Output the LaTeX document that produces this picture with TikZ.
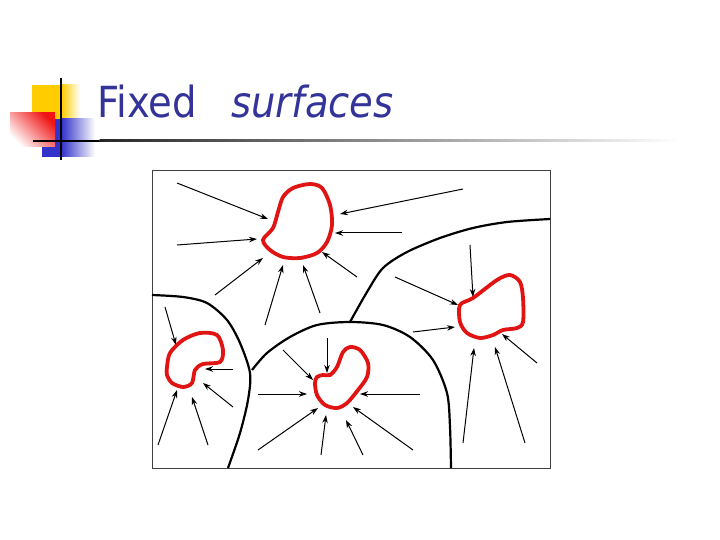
\documentclass[tikz,border=0pt]{standalone}
\usepackage{fontspec}
\setmainfont{DejaVu Sans Condensed}
\usepackage{tikz}
\usetikzlibrary{arrows.meta}
\definecolor{titleblue}{RGB}{51,51,153}
\definecolor{blobred}{RGB}{225,20,20}
\definecolor{decoyellow}{RGB}{255,204,0}
\definecolor{decoblue}{RGB}{51,51,204}
\definecolor{decored}{RGB}{240,20,20}
\tikzset{
  title text/.style={font=\fontsize{43}{50}\selectfont,text=titleblue,inner sep=0pt,anchor=base west},
  region line/.style={line width=2.2bp,line join=round},
  blob/.style={draw=blobred,line width=3.8bp},
  flow/.style={->,line width=1bp}
}

\begin{document}
\begin{tikzpicture}[x=1bp,y=-1bp,>={Stealth[length=8bp,width=5.5bp]}]
    \useasboundingbox (0,0) rectangle (720,540);

    \fill[decoyellow] (32,85) rectangle (62,120);
    \shade[left color=decoyellow,right color=white] (61.5,85) rectangle (80,120);
    \fill[decoblue] (42,119) rectangle (62,157);
    \shade[left color=decoblue,right color=white] (61.5,119) rectangle (95,157);
    \shade[top color=decored,bottom color=white,shading angle=-45] (10,113) rectangle (55,147);
    \fill[black] (33,140) rectangle (100,142);
    \shade[left color=black!85,right color=white] (99.5,140) rectangle (680,142);
    \draw[line width=2bp] (61,78) -- (61,160);

    \node[title text] (fixed) at (97,118) {Fixed};
    \node[title text,font=\fontsize{43}{50}\selectfont\itshape] (surf) at (231,118) {surfaces};

    \draw[line width=1bp,black!75] (152,171) rectangle (550,468);

    \draw[region line] plot[smooth] coordinates {(152,295) (183,297) (207,303) (227,320) (240,343) (250,373) (248,400) (240,433) (228,468)};
    \draw[region line] plot[smooth] coordinates {(252,370) (267,353) (290,337) (317,325) (350,322) (383,325) (410,337) (433,360) (447,393) (450,427) (451,468)};
    \draw[region line] plot[smooth] coordinates {(350,322) (367,292) (383,268) (407,252) (440,238) (473,228) (507,222) (550,219)};

    \draw[flow] (177,183) -- (268,219);
    \draw[flow] (177,245) -- (257,239);
    \draw[flow] (215,295) -- (263,258);
    \draw[flow] (265,325) -- (283,265);
    \draw[flow] (320,313) -- (303,265);
    \draw[flow] (357,277) -- (322,252);
    \draw[flow] (463,189) -- (340,214);
    \draw[flow] (402,233) -- (335,233);

    \draw[flow] (470,245) -- (473,297);
    \draw[flow] (395,277) -- (458,305);
    \draw[flow] (413,332) -- (455,327);
    \draw[flow] (463,443) -- (474,348);
    \draw[flow] (525,443) -- (495,347);
    \draw[flow] (537,363) -- (502,334);

    \draw[flow] (165,307) -- (176,345);
    \draw[flow] (233,369) -- (205,369);
    \draw[flow] (233,407) -- (203,383);
    \draw[flow] (158,445) -- (177,390);
    \draw[flow] (208,445) -- (192,397);

    \draw[flow] (327,338) -- (327,373);
    \draw[flow] (420,394) -- (360,394);
    \draw[flow] (413,450) -- (353,407);
    \draw[flow] (363,455) -- (346,420);
    \draw[flow] (321,455) -- (326,415);
    \draw[flow] (258,450) -- (318,408);
    \draw[flow] (258,394) -- (307,394);
    \draw[flow] (283,350) -- (313,380);

    \draw[blob] plot[smooth cycle] coordinates {(263,240) (273,228) (278,212) (283,197) (293,188) (310,184) (322,188) (330,205) (332,225) (327,242) (317,253) (300,258) (283,257) (270,250)};
    \draw[blob] plot[smooth cycle] coordinates {(460,305) (473,298) (497,280) (510,275) (520,282) (523,298) (523,322) (517,328) (503,330) (493,335) (480,338) (467,333) (460,322)};
    \draw[blob] plot[smooth cycle] coordinates {(167,367) (170,353) (183,340) (200,333) (217,335) (223,350) (220,362) (203,364) (195,370) (192,383) (183,387) (172,383) (167,375)};
    \draw[blob] plot[smooth cycle] coordinates {(315,383) (317,377) (323,375) (330,375) (337,367) (343,352) (350,347) (360,350) (368,363) (367,377) (358,390) (347,403) (337,408) (325,405) (317,395)};
\end{tikzpicture}
\end{document}
